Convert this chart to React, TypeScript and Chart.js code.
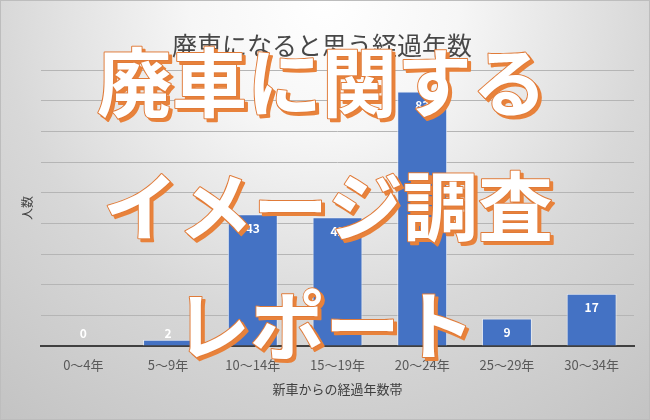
import React, { useEffect, useRef } from "react";
import { Chart, registerables } from "chart.js";

Chart.register(...registerables);

const categories = ["0～4年", "5～9年", "10～14年", "15～19年", "20～24年", "25～29年", "30～34年"];
const counts = [0, 2, 43, 42, 83, 9, 17];
const yMin = 0;
const yMax = 90;
const yStep = 10;
const chartTitle = "廃車になると思う経過年数";
const xAxisTitle = "新車からの経過年数帯";
const yAxisTitle = "人数";
const overlayLines = ["廃車に関する", "イメージ調査", "レポート"];

const FONT = "'Noto Sans CJK JP', 'Noto Sans', sans-serif";

const backgroundPlugin = {
  id: "bgPlugin",
  beforeDraw(chart: any) {
    const { ctx, width, height } = chart;
    ctx.save();
    const g = ctx.createRadialGradient(width / 2, 0, 0, width / 2, 0, 540);
    g.addColorStop(0, "#ffffff");
    g.addColorStop(0.25, "#f6f6f6");
    g.addColorStop(0.6, "#d8d8d8");
    g.addColorStop(1, "#c2c2c2");
    ctx.fillStyle = g;
    ctx.fillRect(0, 0, width, height);
    ctx.strokeStyle = "#bdbdbd";
    ctx.lineWidth = 1;
    ctx.strokeRect(0.5, 0.5, width - 1, height - 1);
    ctx.restore();
  },
};

const labelsPlugin = {
  id: "labelsPlugin",
  afterDatasetsDraw(chart: any) {
    const { ctx } = chart;
    const meta = chart.getDatasetMeta(0);
    const base = chart.scales.y.getPixelForValue(0);
    ctx.save();
    ctx.font = `bold 12px ${FONT}`;
    ctx.fillStyle = "#ffffff";
    ctx.textAlign = "center";
    ctx.textBaseline = "middle";
    meta.data.forEach((bar: any, i: number) => {
      const y = Math.min(bar.y + 14, base - 13);
      ctx.fillText(String(counts[i]), bar.x, y);
    });
    ctx.restore();
  },
  afterDraw(chart: any) {
    const { ctx, width } = chart;
    ctx.save();
    // chart title
    ctx.font = `25px ${FONT}`;
    ctx.fillStyle = "#474747";
    ctx.textAlign = "center";
    ctx.textBaseline = "middle";
    ctx.fillText(chartTitle, width / 2 - 3, 45);

    // overlay banner text
    const ys = [82, 206, 325];
    const xs = [322, 328, 325];
    ctx.font = `bold 75px ${FONT}`;
    ctx.lineJoin = "round";
    overlayLines.forEach((t, i) => {
      const x = xs[i];
      const y = ys[i];
      ctx.fillStyle = "#e8823b";
      ctx.strokeStyle = "#e8823b";
      ctx.lineWidth = 2;
      ctx.strokeText(t, x + 3, y + 3);
      ctx.fillText(t, x + 3, y + 3);
      ctx.strokeStyle = "#e07b39";
      ctx.lineWidth = 2;
      ctx.strokeText(t, x, y);
      ctx.fillStyle = "#ffffff";
      ctx.fillText(t, x, y);
    });
    ctx.restore();
  },
};

export default function App() {
  const ref = useRef<HTMLCanvasElement | null>(null);

  useEffect(() => {
    document.body.style.margin = "0";
    if (!ref.current) return;
    const chart = new Chart(ref.current, {
      type: "bar",
      data: {
        labels: categories,
        datasets: [
          {
            data: counts,
            backgroundColor: "#4472c4",
            borderColor: "rgba(235,240,250,0.8)",
            borderWidth: 1,
            barPercentage: 0.59,
            categoryPercentage: 1,
          },
        ],
      },
      options: {
        responsive: false,
        animation: false,
        devicePixelRatio: 1,
        layout: { padding: { top: 70, right: 16, left: 0, bottom: 0 } },
        plugins: {
          legend: { display: false },
          tooltip: { enabled: false },
          title: { display: false },
        },
        scales: {
          x: {
            grid: { display: false, drawTicks: false },
            border: { display: true, color: "#404040", width: 2 },
            ticks: {
              color: "#595959",
              font: { family: FONT, size: 13 },
              padding: 11,
              maxRotation: 0,
              autoSkip: false,
            },
            title: {
              display: true,
              text: xAxisTitle,
              color: "#404040",
              font: { family: FONT, size: 13 },
              padding: { top: 0, bottom: 23 },
            },
            afterFit(scale: any) {
              scale.height = 74;
            },
          },
          y: {
            min: yMin,
            max: yMax,
            ticks: { display: false, stepSize: yStep },
            grid: { color: "#b5b5b5", lineWidth: 1, drawTicks: false },
            border: { display: false },
            title: {
              display: true,
              text: yAxisTitle,
              color: "#404040",
              font: { family: FONT, size: 12 },
              padding: { top: 20, bottom: 0 },
            },
            afterFit(scale: any) {
              scale.width = 41;
            },
          },
        },
      },
      plugins: [backgroundPlugin, labelsPlugin],
    });
    return () => chart.destroy();
  }, []);

  return (
    <div style={{ width: 650, height: 420 }}>
      <canvas ref={ref} width={650} height={420} />
    </div>
  );
}
